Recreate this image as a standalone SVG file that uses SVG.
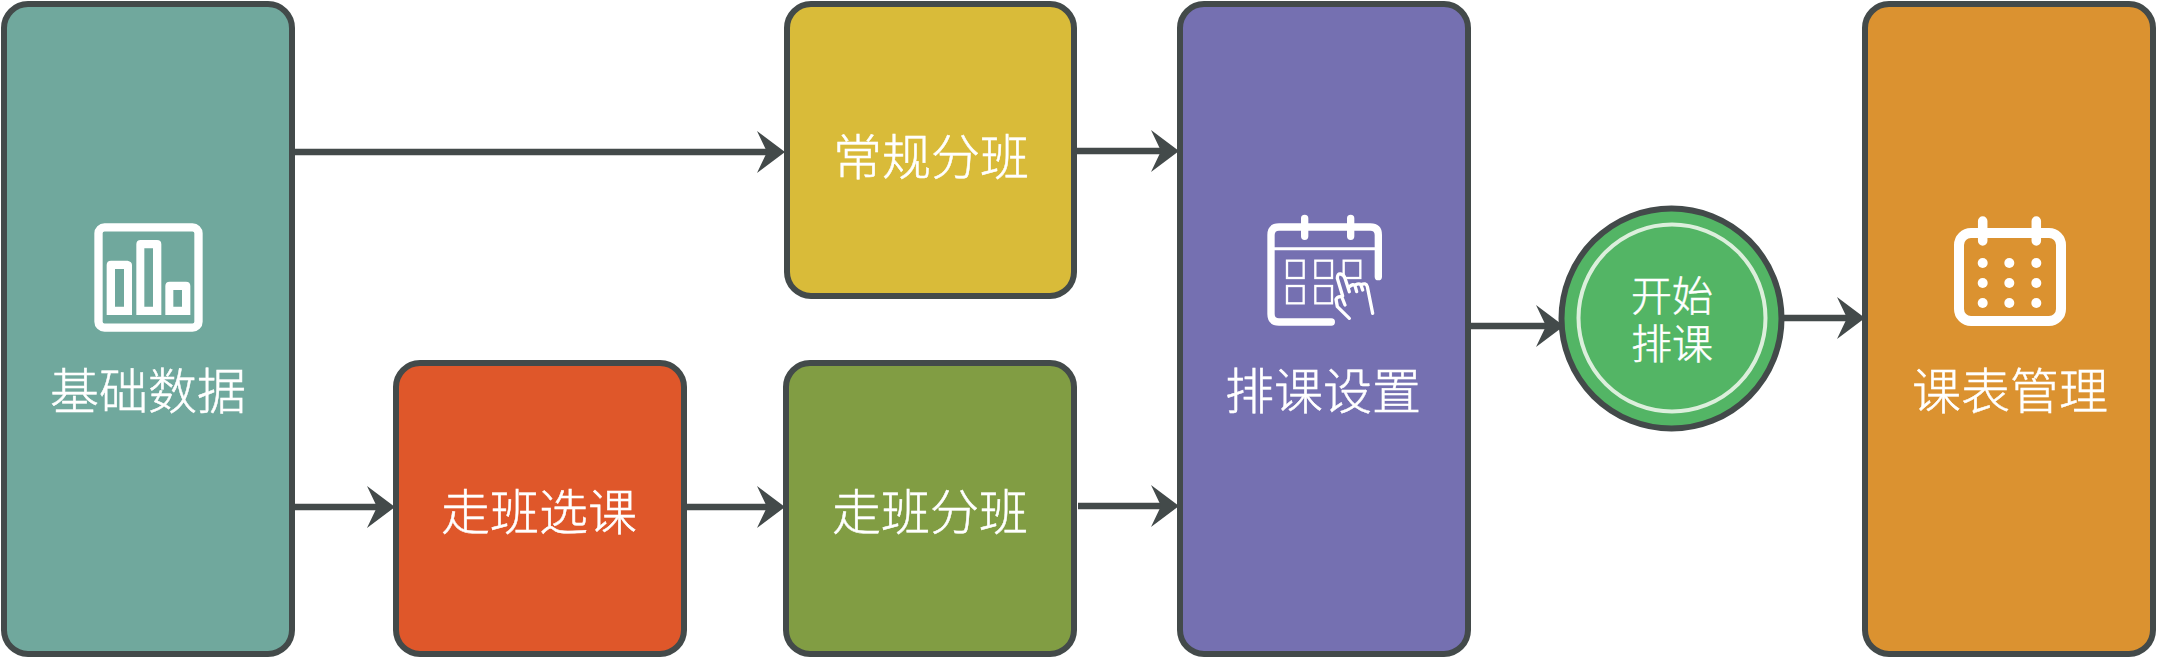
<svg xmlns="http://www.w3.org/2000/svg" width="2157" height="658" viewBox="0 0 2157 658">
<style>
.box{stroke:#434a4a;stroke-width:6}
.lbl{font-family:"Noto Sans CJK SC","Noto Sans",sans-serif;font-weight:300;font-size:49px;fill:#fff;stroke:#fff;stroke-width:.5px;text-anchor:middle}
.small{font-size:41px}
.conn{fill:none;stroke:#434a4a;stroke-width:6.500;marker-end:url(#arrow)}
.ico{fill:none;stroke:#fff;stroke-linecap:round;stroke-linejoin:round}
</style>
<defs>
<marker id="arrow" markerUnits="userSpaceOnUse" markerWidth="30" markerHeight="44" refX="18" refY="21" orient="auto">
<polygon points="0,0 28,21 0,42 10,21" fill="#434a4a"/>
</marker>
</defs>
<rect width="2157" height="658" fill="#fff"/>
<g id="node-base">
<rect class="box" x="4" y="4" width="288" height="650" rx="24" fill="#70a89d"/>
<g transform="translate(60 200) scale(.33333)">
<rect x="115.500" y="82" width="300" height="301" rx="18" fill="none" stroke="#fff" stroke-width="25"/>
<path fill="#fff" fill-rule="evenodd" d="M140 345V195Q140 182 153 182H203Q216 185 216 195V345ZM165 207V320H192V207ZM229 345V133Q229 120 242 120H291Q304 120 304 133V345ZM253 145V320H279V145ZM316 345V258Q316 245 329 245H378Q391 245 391 258V345ZM340 270V320H366V270Z"/>
</g>
<text class="lbl" x="148" y="409">基础数据</text>
</g>
<g id="node-regular">
<rect class="box" x="787" y="4" width="287" height="292" rx="24" fill="#d9bb39"/>
<text class="lbl" x="931" y="175">常规分班</text>
</g>
<g id="node-select">
<rect class="box" x="396" y="363" width="288" height="291" rx="24" fill="#df572a"/>
<text class="lbl" x="539" y="530">走班选课</text>
</g>
<g id="node-walk">
<rect class="box" x="786" y="363" width="288" height="291" rx="24" fill="#819d43"/>
<text class="lbl" x="930" y="530">走班分班</text>
</g>
<g id="node-settings">
<rect class="box" x="1180" y="4" width="288" height="650" rx="24" fill="#7570b1"/>
<g transform="translate(1230 190) scale(.33333)">
<path class="ico" stroke-width="22" d="M445 260V135Q445 111 421 111H147Q123 111 123 135V372Q123 396 147 396H304"/>
<path class="ico" stroke-width="22" d="M224 85V139M362 85V139"/>
<path class="ico" stroke-width="9" d="M123 176H445"/>
<g fill="none" stroke="#fff" stroke-width="7">
<rect x="171" y="212" width="50" height="52"/>
<rect x="256" y="212" width="50" height="52"/>
<rect x="341" y="212" width="50" height="52"/>
<rect x="171" y="288" width="50" height="52"/>
<rect x="256" y="288" width="50" height="52"/>
</g>
<path fill="#7570b1" stroke="#fff" stroke-width="10" stroke-linejoin="round" stroke-linecap="round" d="M345 345L335 320Q322 318 318 328L322 350L358 385M338 318L322 265Q322 250 332 252Q342 254 345 265L358 305M358 290Q370 280 375 287L380 305M375 285Q390 278 393 285L398 300M392 285Q408 276 412 290L428 370"/>
</g>
<text class="lbl" x="1323" y="409">排课设置</text>
</g>
<g id="node-start">
<circle cx="1671.500" cy="318.500" r="110" fill="#53b565" stroke="#434a4a" stroke-width="6"/>
<circle cx="1672" cy="318" r="93.500" fill="none" stroke="#dcefdc" stroke-width="4"/>
<text class="lbl small" x="1672" y="311">开始</text>
<text class="lbl small" x="1672" y="359">排课</text>
</g>
<g id="node-timetable">
<rect class="box" x="1865" y="4" width="288" height="650" rx="24" fill="#db9230"/>
<rect x="1959" y="233" width="102" height="88" rx="12" fill="none" stroke="#fff" stroke-width="10"/>
<path class="ico" stroke-width="9.500" d="M1982.700 221V241M2036.300 221V241"/>
<g fill="#fff">
<circle cx="1982.700" cy="263" r="5"/><circle cx="2009.300" cy="263" r="5"/><circle cx="2036.300" cy="263" r="5"/>
<circle cx="1982.700" cy="283" r="5"/><circle cx="2009.300" cy="283" r="5"/><circle cx="2036.300" cy="283" r="5"/>
<circle cx="1982.700" cy="303" r="5"/><circle cx="2009.300" cy="303" r="5"/><circle cx="2036.300" cy="303" r="5"/>
</g>
<text class="lbl" x="2010" y="409">课表管理</text>
</g>
<g id="connectors">
<path class="conn" d="M292 152H775"/>
<path class="conn" d="M1077 151H1169"/>
<path class="conn" d="M292 507H385"/>
<path class="conn" d="M684 507H775"/>
<path class="conn" d="M1078 506H1169"/>
<path class="conn" d="M1468 326H1554"/>
<path class="conn" d="M1784 318H1855"/>
</g>
</svg>
